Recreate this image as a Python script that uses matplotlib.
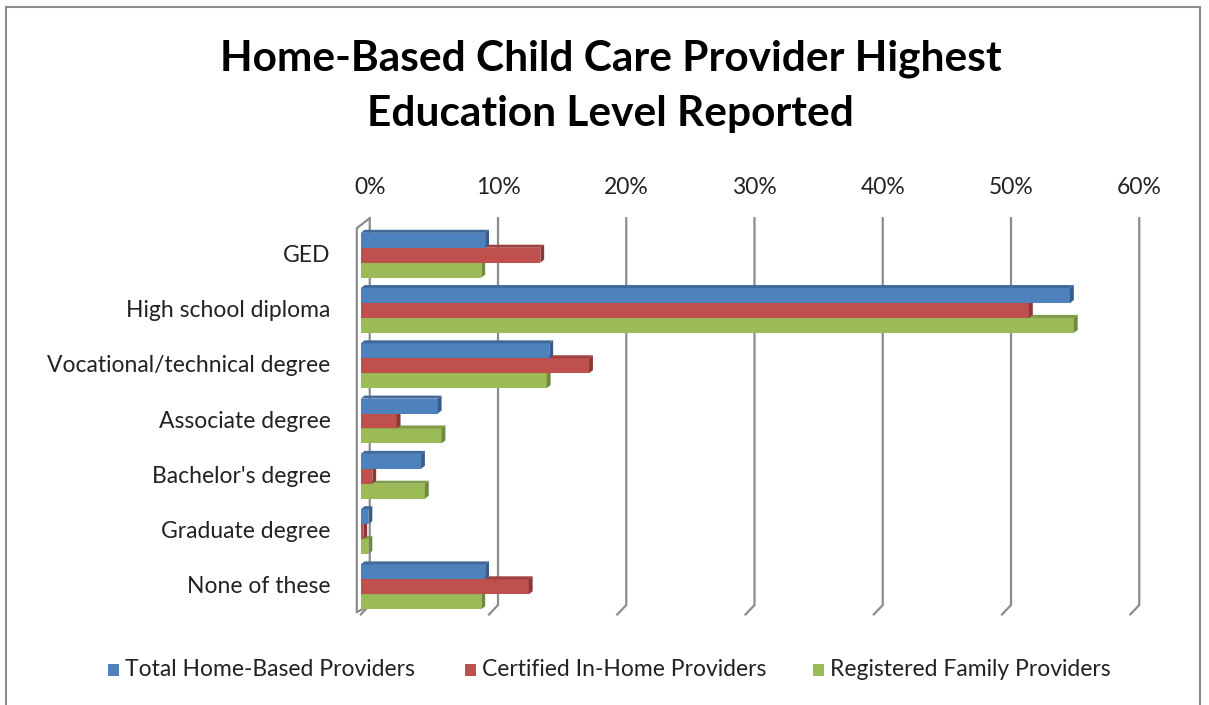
import matplotlib.pyplot as plt
from matplotlib.patches import Polygon, Rectangle

# Data (percent)
categories = ["GED", "High school diploma", "Vocational/technical degree",
              "Associate degree", "Bachelor's degree", "Graduate degree", "None of these"]
series_names = ["Total Home-Based Providers", "Certified In-Home Providers",
                "Registered Family Providers"]
total_home = [9.7, 55.3, 14.7, 6.0, 4.7, 0.6, 9.7]
certified_in_home = [14.0, 52.1, 17.8, 2.8, 0.9, 0.2, 13.1]
registered_family = [9.4, 55.6, 14.5, 6.3, 5.0, 0.6, 9.4]
xticks = [0, 10, 20, 30, 40, 50, 60]

values = [total_home, certified_in_home, registered_family]
colors = ["#4F81BD", "#C0504D", "#9BBB59"]
top_c = ["#41699A", "#9E413F", "#809B49"]
dark = ["#385D8A", "#8C3836", "#71893F"]

plt.rcParams["font.family"] = ["Lato", "DejaVu Sans"]

fig = plt.figure(figsize=(12.09, 7.05), dpi=100)
ax = fig.add_axes([0.2878, 0.1206, 0.6683, 0.5801])
ax.set_xlim(-1, 62)
ax.set_ylim(6.6, -0.8)
ax.axis("off")

bh = 0.27      # bar height (category units)
ddx = 0.3      # 3D depth in x (percent)
ddy = 0.055    # 3D depth in y (category units)
bdx, bdy = 0.7, -0.17   # back wall offset
grid_c = "#8C8C8C"

# back wall gridlines with bottom diagonals
for v in xticks:
    ax.plot([v + bdx, v + bdx, v], [-0.5 + bdy, 6.5 + bdy, 6.5], color=grid_c, lw=1.6,
            zorder=1, solid_joinstyle="miter")
    ax.text(v + bdx, -1.23, f"{v}%", ha="center", va="center", fontsize=16.5,
            color="#222222", clip_on=False)
# left side wall
x0 = -0.31
ax.plot([bdx, x0, x0, bdx], [-0.5 + bdy, -0.49, 6.46, 6.5 + bdy], color=grid_c, lw=1.6,
        zorder=1)

# bars, drawn bottom series first so upper bars hide the top faces
for k in [2, 1, 0]:
    off = (k - 1) * bh
    for i, v in enumerate(values[k]):
        yc = i + off
        top, bot = yc - bh / 2, yc + bh / 2
        z = 3 + (2 - k)
        ax.barh(yc, v, height=bh, color=colors[k], edgecolor="none", zorder=z)
        # top face
        ax.add_patch(Polygon([(0, top), (ddx, top - ddy), (v + ddx, top - ddy), (v, top)],
                             closed=True, facecolor=top_c[k], edgecolor="none", zorder=z))
        # side face
        ax.add_patch(Polygon([(v, top), (v + ddx, top - ddy), (v + ddx, bot - ddy), (v, bot)],
                             closed=True, facecolor=dark[k], edgecolor="none", zorder=z))

for i, c in enumerate(categories):
    ax.text(-2.35, i, c, ha="right", va="center", fontsize=16.5, color="#222222")

# title
fig.text(0.505, 0.916, "Home-Based Child Care Provider Highest", ha="center", va="center",
         fontsize=30.5, fontweight="bold", color="black")
fig.text(0.505, 0.838, "Education Level Reported", ha="center", va="center",
         fontsize=30.5, fontweight="bold", color="black")

# legend
leg_x = [108, 465, 813]
for k, name in enumerate(series_names):
    fig.patches.append(Rectangle((leg_x[k] / 1209, 1 - 676 / 705), 11 / 1209, 12 / 705,
                                 transform=fig.transFigure, facecolor=colors[k],
                                 edgecolor="none"))
    fig.text((leg_x[k] + 17) / 1209, 1 - 669 / 705, name, ha="left", va="center",
             fontsize=16.5, color="#222222")

# outer frame
fig.patches.append(Rectangle((6 / 1209, -0.05), 1194 / 1209, 1.05 - 7 / 705,
                             transform=fig.transFigure, facecolor="none",
                             edgecolor="#8C8C8C", lw=1.5))

plt.savefig("out.png", dpi=100)
